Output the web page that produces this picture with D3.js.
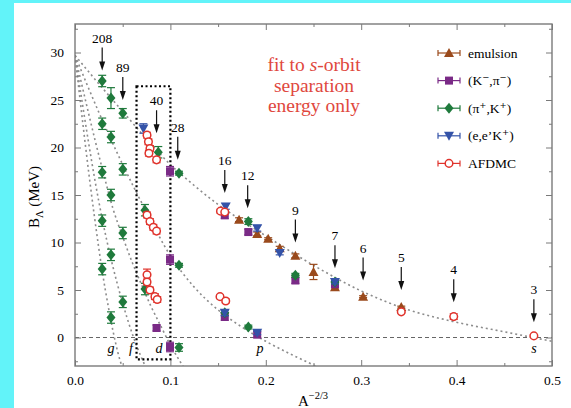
<!DOCTYPE html>
<html>
<head>
<meta charset="utf-8">
<script src="https://cdn.jsdelivr.net/npm/d3@7/dist/d3.min.js"></script>
<style>
  html, body { margin: 0; padding: 0; background: #fff; }
  svg { display: block; }
  text { font-family: "Liberation Serif", "DejaVu Serif", serif; }
</style>
</head>
<body>
<svg id="chart" width="571" height="408"></svg>
<script>
// ---- data: [A^-2/3, B_Lambda (MeV), error] ----
const emulsion = [
  [0.172, 12.4, 0.2], [0.191, 10.9, 0.2], [0.2025, 10.4, 0.1], [0.2146, 9.4, 0.2],
  [0.231, 8.6, 0.2], [0.250, 6.9, 0.8], [0.2725, 5.3, 0.2], [0.302, 4.3, 0.1],
  [0.342, 3.2, 0.1]
];
const kPi = [
  [0.0855, 1.0, 0.3], [0.0996, 17.5, 0.5], [0.0996, 8.2, 0.5], [0.0996, -1.0, 0.5],
  [0.157, 12.9, 0.4], [0.157, 2.2, 0.4], [0.1817, 11.1, 0.3], [0.191, 0.3, 0.3],
  [0.231, 6.0, 0.3], [0.2725, 5.6, 0.3]
];
const piK = [
  [0.0285, 27.0, 0.6], [0.0285, 22.5, 0.6], [0.0285, 17.4, 0.6], [0.0285, 12.3, 0.6], [0.0285, 7.2, 0.6],
  [0.0377, 25.2, 1.1], [0.0377, 21.1, 0.6], [0.0377, 15.0, 0.6], [0.0377, 8.7, 0.6], [0.0377, 2.1, 0.6],
  [0.0501, 23.6, 0.5], [0.0501, 17.7, 0.6], [0.0501, 11.0, 0.6], [0.0501, 3.75, 0.6],
  [0.0733, 13.4, 0.6], [0.0733, 5.1, 0.6], [0.0873, 19.5, 0.6],
  [0.109, 17.3, 0.2], [0.109, 7.6, 0.2], [0.109, -1.05, 0.4],
  [0.157, 2.6, 0.3], [0.1817, 12.2, 0.3], [0.1817, 1.1, 0.2],
  [0.231, 6.55, 0.2], [0.2725, 5.85, 0.2]
];
const eeK = [
  [0.0717, 22.0, 0.5], [0.158, 13.8, 0.3], [0.157, 2.6, 0.3], [0.191, 11.5, 0.3],
  [0.191, 0.5, 0.2], [0.2146, 8.9, 0.2], [0.2725, 5.85, 0.2]
];
const afdmc = [
  [0.0755, 21.3, 0.3], [0.077, 20.6, 0.3], [0.0786, 19.9, 0.3], [0.0775, 19.4, 0.3], [0.0855, 18.7, 0.3],
  [0.0755, 12.9, 0.3], [0.0786, 12.2, 0.3], [0.0821, 11.6, 0.3], [0.0855, 11.2, 0.3],
  [0.0755, 6.6, 0.6], [0.0755, 5.85, 0.3], [0.0786, 5.0, 0.3], [0.0838, 4.3, 0.3], [0.0862, 4.0, 0.3],
  [0.1525, 13.3, 0.2], [0.157, 13.2, 0.2], [0.152, 4.3, 0.2], [0.158, 3.85, 0.2],
  [0.342, 2.7, 0.1], [0.397, 2.2, 0.3], [0.481, 0.17, 0.1]
];

// single-particle bands (s, p, d, f, g), [A^-2/3, B_Lambda]
const curveS = [[0,29.7],[0.025,26.7],[0.05,23.8],[0.075,20.9],[0.1,18.2],[0.125,16.0],[0.15,14.0],[0.175,12.3],[0.2,10.7],[0.25,7.6],[0.3,4.9],[0.35,2.9],[0.4,1.6],[0.45,0.6],[0.5,-0.4]];
const curveP = [[0,29.7],[0.025,23.7],[0.05,18.2],[0.075,13.2],[0.1,8.6],[0.125,5.3],[0.15,2.9],[0.175,1.1],[0.2,-0.4],[0.225,-1.7],[0.25,-2.9],[0.26,-3.4]];
const curveD = [[0,29.7],[0.0285,17.8],[0.04,13.5],[0.05,10.6],[0.06,7.9],[0.07,5.5],[0.08,3.2],[0.09,1.2],[0.1,-0.8],[0.11,-2.5],[0.115,-3.3]];
const curveF = [[0,29.7],[0.0285,12.5],[0.0377,8.3],[0.05,3.6],[0.06,0.4],[0.07,-2.2],[0.075,-3.3]];
const curveG = [[0,29.7],[0.02,13.0],[0.0285,7.0],[0.035,3.2],[0.04,0.6],[0.045,-1.6],[0.05,-3.3]];
const curveLetters = [["g", 0.0377], ["f", 0.0587], ["d", 0.088], ["p", 0.194], ["s", 0.481]];

// mass-number arrows: [label, A^-2/3, tip B_Lambda]
const arrows = [
  ["208", 0.0285, 28.1], ["89", 0.0501, 25.0], ["40", 0.0855, 21.5], ["28", 0.1077, 18.7],
  ["16", 0.157, 15.2], ["12", 0.181, 13.6], ["9", 0.231, 10.0], ["7", 0.2725, 7.3],
  ["6", 0.302, 6.0], ["5", 0.342, 5.0], ["4", 0.397, 3.7], ["3", 0.481, 1.6]
];
// dotted frame around the A = 40 region: [x0, x1, y0, y1]
const box = [0.0645, 0.1, -2.3, 26.45];

const xTicks = [0, 0.1, 0.2, 0.3, 0.4, 0.5];
const xMinor = [0.05, 0.15, 0.25, 0.35, 0.45];
const yTicks = [0, 5, 10, 15, 20, 25, 30];
const yMinor = [-2.5, 2.5, 7.5, 12.5, 17.5, 22.5, 27.5, 32.5];

const legendItems = [
  ["emulsion", "#9a4a1c", "triUp"],
  ["(K\u207B,\u03C0\u207B)", "#7a2a86", "square"],
  ["(\u03C0\u207A,K\u207A)", "#1f7a3c", "diamond"],
  ["(e,e\u2019K\u207A)", "#3453a8", "triDown"],
  ["AFDMC", "#e0332c", "circle"]
];

// ---- layout ----
const svg = d3.select("#chart");
const L = 75, R = 552, T = 24, B = 366;
const x = d3.scaleLinear().domain([0, 0.5]).range([L, R]);
const y = d3.scaleLinear().domain([-3, 33]).range([B, T]);

// cyan page margin
svg.append("rect").attr("x", 0).attr("y", 0).attr("width", 14).attr("height", 408).attr("fill", "#62f3f9");
svg.append("rect").attr("x", 0).attr("y", 0).attr("width", 571).attr("height", 3).attr("fill", "#62f3f9");

svg.append("defs").append("clipPath").attr("id", "plotClip")
  .append("rect").attr("x", L).attr("y", T).attr("width", R - L).attr("height", B - T);

const plot = svg.append("g").attr("clip-path", "url(#plotClip)");

// zero line
plot.append("line")
  .attr("x1", L).attr("x2", R).attr("y1", y(0)).attr("y2", y(0))
  .attr("stroke", "#555").attr("stroke-width", 0.9).attr("stroke-dasharray", "4,3");

// curves
const line = d3.line().x(d => x(d[0])).y(d => y(d[1])).curve(d3.curveMonotoneX);
[curveS, curveP, curveD, curveF, curveG].forEach(c => {
  plot.append("path").attr("d", line(c)).attr("fill", "none")
    .attr("stroke", "#8c8c8c").attr("stroke-width", 1.6)
    .attr("stroke-dasharray", "2,3");
});

// dotted box
plot.append("rect")
  .attr("x", x(box[0])).attr("y", y(box[3]))
  .attr("width", x(box[1]) - x(box[0])).attr("height", y(box[2]) - y(box[3]))
  .attr("fill", "none").attr("stroke", "#000").attr("stroke-width", 2.2)
  .attr("stroke-dasharray", "2,2.5");

// curve letters
curveLetters.forEach(([t, v]) => {
  svg.append("text").attr("x", x(v)).attr("y", y(-1.65))
    .attr("text-anchor", "middle").attr("font-style", "italic")
    .attr("font-size", 14).text(t);
});

// markers
function marker(g, type, cx, cy, color) {
  if (type === "triUp") {
    g.append("path").attr("d", `M${cx},${cy-5}L${cx+5},${cy+4}L${cx-5},${cy+4}Z`).attr("fill", color);
  } else if (type === "triDown") {
    g.append("path").attr("d", `M${cx},${cy+5}L${cx+5},${cy-4}L${cx-5},${cy-4}Z`).attr("fill", color);
  } else if (type === "square") {
    g.append("rect").attr("x", cx-4).attr("y", cy-4).attr("width", 8).attr("height", 8).attr("fill", color);
  } else if (type === "diamond") {
    g.append("path").attr("d", `M${cx},${cy-5.5}L${cx+4.5},${cy}L${cx},${cy+5.5}L${cx-4.5},${cy}Z`).attr("fill", color);
  } else {
    g.append("circle").attr("cx", cx).attr("cy", cy).attr("r", 3.8)
      .attr("fill", "#fff").attr("stroke", color).attr("stroke-width", 1.5);
  }
}
function series(data, color, type) {
  const g = plot.append("g");
  data.forEach(([xv, yv, e]) => {
    const cx = x(xv), y1 = y(yv + e), y2 = y(yv - e);
    g.append("line").attr("x1", cx).attr("x2", cx).attr("y1", y1).attr("y2", y2)
      .attr("stroke", color).attr("stroke-width", 1.2);
    [y1, y2].forEach(yy => g.append("line").attr("x1", cx - 4).attr("x2", cx + 4)
      .attr("y1", yy).attr("y2", yy).attr("stroke", color).attr("stroke-width", 1.2));
  });
  data.forEach(([xv, yv]) => marker(g, type, x(xv), y(yv), color));
}
series(emulsion, legendItems[0][1], "triUp");
series(kPi, legendItems[1][1], "square");
series(piK, legendItems[2][1], "diamond");
series(eeK, legendItems[3][1], "triDown");
series(afdmc, legendItems[4][1], "circle");

// arrows
arrows.forEach(([lab, xv, tip]) => {
  const cx = x(xv), ty = y(tip);
  svg.append("line").attr("x1", cx).attr("x2", cx).attr("y1", ty - 23).attr("y2", ty - 6)
    .attr("stroke", "#111").attr("stroke-width", 1.2);
  svg.append("path").attr("d", `M${cx},${ty}L${cx+3},${ty-9}L${cx-3},${ty-9}Z`).attr("fill", "#111");
  svg.append("text").attr("x", cx).attr("y", ty - 28).attr("text-anchor", "middle")
    .attr("font-size", 13.5).text(lab);
});

// axes
const axisColor = "#7a7a7a";
function styleAxis(g) {
  g.select(".domain").remove();
  g.selectAll(".tick line").attr("stroke", axisColor).attr("stroke-width", 1);
  g.selectAll(".tick text").attr("fill", "#000").attr("font-size", 13.5)
    .attr("font-family", "Liberation Serif, DejaVu Serif, serif");
}
const fmtX = d => d3.format(".1f")(d);
svg.append("g").attr("transform", `translate(0,${B})`)
  .call(d3.axisBottom(x).tickValues(xTicks).tickFormat(fmtX).tickSizeInner(-6).tickSizeOuter(0).tickPadding(9))
  .call(styleAxis);
svg.append("g").attr("transform", `translate(0,${B})`)
  .call(d3.axisBottom(x).tickValues(xMinor).tickFormat("").tickSizeInner(-3).tickSizeOuter(0)).call(styleAxis);
svg.append("g").attr("transform", `translate(0,${T})`)
  .call(d3.axisTop(x).tickValues(xTicks).tickFormat("").tickSizeInner(-6).tickSizeOuter(0)).call(styleAxis);
svg.append("g").attr("transform", `translate(0,${T})`)
  .call(d3.axisTop(x).tickValues(xMinor).tickFormat("").tickSizeInner(-3).tickSizeOuter(0)).call(styleAxis);
svg.append("g").attr("transform", `translate(${L},0)`)
  .call(d3.axisLeft(y).tickValues(yTicks).tickSizeInner(-6).tickSizeOuter(0).tickPadding(11))
  .call(styleAxis);
svg.append("g").attr("transform", `translate(${L},0)`)
  .call(d3.axisLeft(y).tickValues(yMinor).tickFormat("").tickSizeInner(-3).tickSizeOuter(0)).call(styleAxis);
svg.append("g").attr("transform", `translate(${R},0)`)
  .call(d3.axisRight(y).tickValues(yTicks).tickFormat("").tickSizeInner(-6).tickSizeOuter(0)).call(styleAxis);
svg.append("g").attr("transform", `translate(${R},0)`)
  .call(d3.axisRight(y).tickValues(yMinor).tickFormat("").tickSizeInner(-3).tickSizeOuter(0)).call(styleAxis);

svg.append("rect").attr("x", L).attr("y", T).attr("width", R - L).attr("height", B - T)
  .attr("fill", "none").attr("stroke", axisColor).attr("stroke-width", 1.4);

// axis titles
const yt = svg.append("text").attr("transform", `translate(39,${(T + B) / 2 + 2}) rotate(-90)`)
  .attr("text-anchor", "middle").attr("font-size", 15);
yt.append("tspan").text("B");
yt.append("tspan").attr("font-size", 10.5).attr("dy", 4).text("\u039B");
yt.append("tspan").attr("dy", -4).text(" (MeV)");

const xt = svg.append("text").attr("x", 313).attr("y", 406).attr("text-anchor", "middle").attr("font-size", 15);
xt.append("tspan").text("A");
xt.append("tspan").attr("font-size", 10.5).attr("dy", -7).text("\u22122/3");

// legend
legendItems.forEach(([lab, color, type], i) => {
  const ly = 53 + i * 27.6, lx = 449;
  const g = svg.append("g");
  g.append("line").attr("x1", lx - 11).attr("x2", lx + 11).attr("y1", ly).attr("y2", ly)
    .attr("stroke", color).attr("stroke-width", 1.2);
  [lx - 11, lx + 11].forEach(xx => g.append("line").attr("x1", xx).attr("x2", xx)
    .attr("y1", ly - 3).attr("y2", ly + 3).attr("stroke", color).attr("stroke-width", 1.2));
  marker(g, type, lx, ly, color);
  svg.append("text").attr("x", 468).attr("y", ly + 4.5).attr("font-size", 13.5).text(lab);
});

// fit note
const note = svg.append("g").attr("fill", "#e0483e").attr("font-size", 19.5)
  .attr("font-family", "Liberation Serif, DejaVu Serif, serif");
const n1 = note.append("text").attr("x", 314).attr("y", 70.5).attr("text-anchor", "middle");
n1.append("tspan").text("fit to ");
n1.append("tspan").attr("font-style", "italic").text("s");
n1.append("tspan").text("-orbit");
note.append("text").attr("x", 314).attr("y", 91.5).attr("text-anchor", "middle").text("separation");
note.append("text").attr("x", 314).attr("y", 112).attr("text-anchor", "middle").text("energy only");
</script>
</body>
</html>
